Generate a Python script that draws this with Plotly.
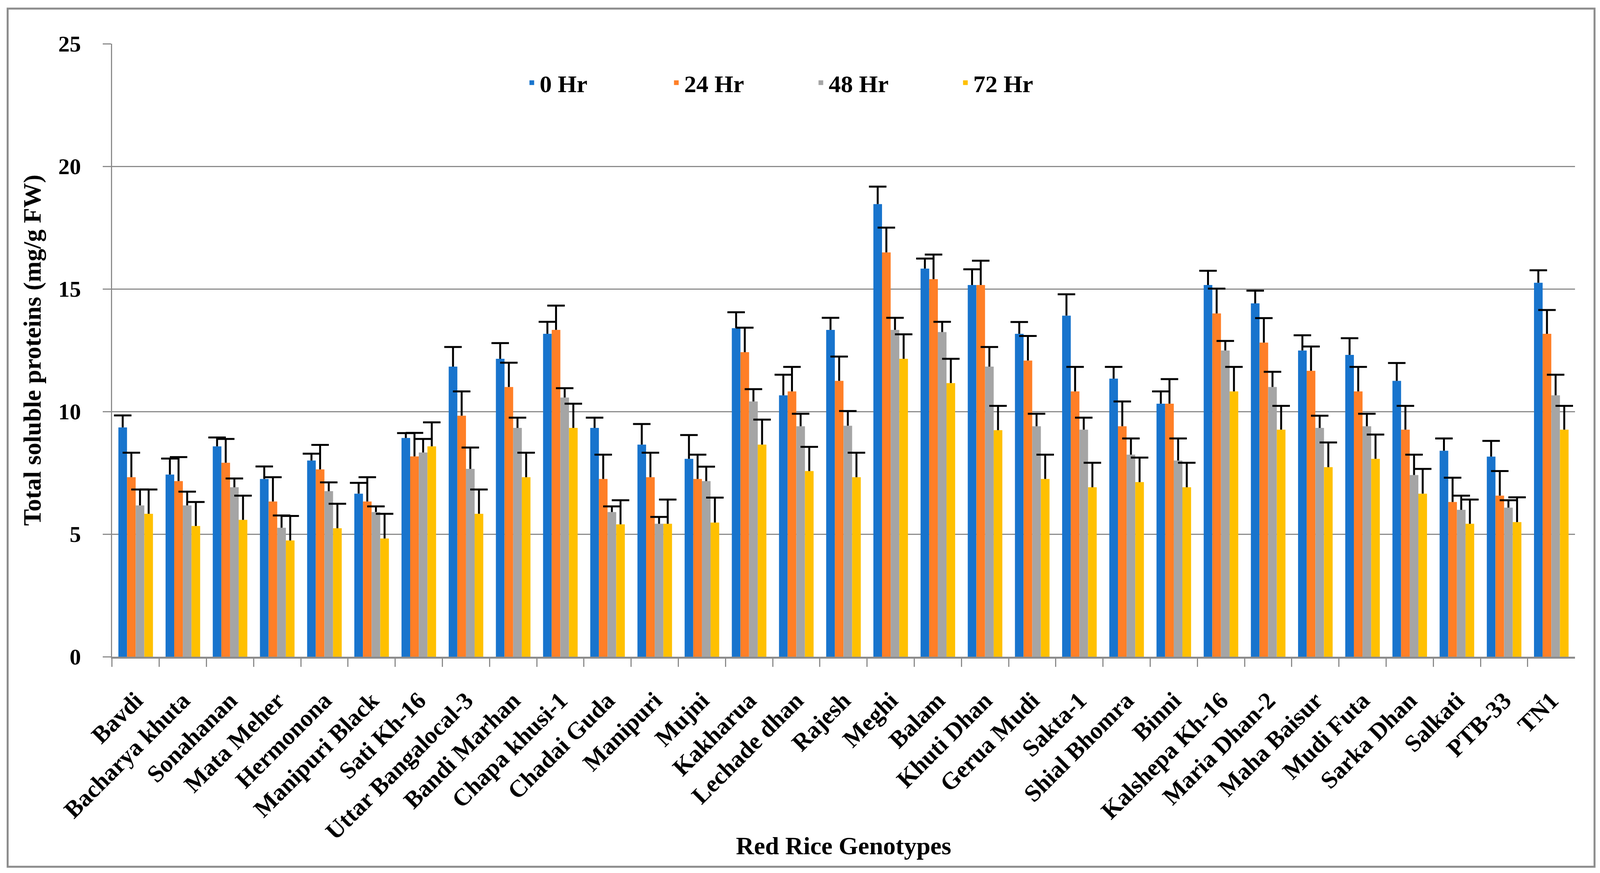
import plotly.graph_objects as go

genotypes = ["Bavdi", "Bacharya khuta", "Sonahanan", "Mata Meher", "Hermonona", "Manipuri Black",
             "Sati Kh-16", "Uttar Bangalocal-3", "Bandi Marhan", "Chapa khusi-1", "Chadai Guda",
             "Manipuri", "Mujni", "Kakharua", "Lechade dhan", "Rajesh", "Meghi", "Balam",
             "Khuti Dhan", "Gerua Mudi", "Sakta-1", "Shial Bhomra", "Binni", "Kalshepa Kh-16",
             "Maria Dhan-2", "Maha Baisur", "Mudi Futa", "Sarka Dhan", "Salkati", "PTB-33", "TN1"]

series_names = ["0 Hr", "24 Hr", "48 Hr", "72 Hr"]

hr0 = [9.35, 7.43, 8.58, 7.25, 8.00, 6.65, 8.92, 11.83, 12.15, 13.17, 9.33, 8.65, 8.07, 13.40, 10.66,
       13.33, 18.46, 15.83, 15.16, 13.17, 13.91, 11.34, 10.32, 15.16, 14.41, 12.49, 12.31, 11.25,
       8.40, 8.16, 15.25]
err0 = [0.49, 0.65, 0.36, 0.51, 0.28, 0.44, 0.20, 0.80, 0.64, 0.49, 0.42, 0.84, 0.97, 0.65, 0.84,
        0.49, 0.71, 0.41, 0.64, 0.48, 0.87, 0.48, 0.50, 0.58, 0.52, 0.62, 0.68, 0.73, 0.50, 0.64, 0.51]

hr24 = [7.32, 7.16, 7.91, 6.33, 7.64, 6.33, 8.17, 9.83, 11.00, 13.33, 7.25, 7.32, 7.25, 12.42, 10.82,
        11.25, 16.49, 15.40, 15.16, 12.08, 10.82, 9.40, 10.32, 14.00, 12.81, 11.66, 10.82, 9.26,
        6.31, 6.57, 13.17]
err24 = [1.00, 0.98, 0.97, 0.99, 1.00, 0.99, 0.96, 0.99, 0.99, 0.99, 0.99, 1.00, 0.99, 1.00, 1.00,
         0.99, 1.01, 1.00, 0.99, 1.00, 1.00, 1.01, 1.00, 1.01, 1.00, 0.99, 1.00, 0.97, 0.99, 1.00, 0.97]

hr48 = [6.17, 6.17, 6.91, 5.26, 6.75, 5.90, 8.33, 7.66, 9.33, 10.57, 5.90, 5.42, 7.16, 10.41, 9.40,
        9.42, 13.33, 13.24, 11.83, 9.40, 9.26, 8.24, 8.00, 12.49, 11.00, 9.33, 9.40, 7.41,
        5.99, 6.08, 10.66]
err48 = [0.65, 0.56, 0.36, 0.50, 0.36, 0.23, 0.55, 0.87, 0.42, 0.38, 0.23, 0.28, 0.59, 0.50, 0.51,
         0.60, 0.49, 0.42, 0.80, 0.51, 0.49, 0.66, 0.90, 0.39, 0.62, 0.50, 0.51, 0.83, 0.58, 0.30, 0.84]

hr72 = [5.83, 5.33, 5.58, 4.74, 5.24, 4.82, 8.58, 5.83, 7.32, 9.33, 5.40, 5.42, 5.47, 8.65, 7.57,
        7.32, 12.15, 11.16, 9.24, 7.25, 6.91, 7.12, 6.91, 10.82, 9.26, 7.73, 8.07, 6.65,
        5.42, 5.49, 9.26]
err72 = [0.99, 0.98, 0.99, 1.00, 1.00, 1.01, 0.98, 0.99, 1.00, 0.99, 0.98, 0.99, 1.02, 1.02, 0.99,
         1.00, 1.00, 0.99, 0.99, 0.99, 1.00, 1.00, 1.00, 1.00, 0.97, 1.01, 0.99, 1.01, 0.99, 1.01, 0.97]

colors = ["#1874CD", "#FF7F27", "#A5A5A5", "#FFC000"]
y_ticks = [0, 5, 10, 15, 20, 25]

FONT = "Liberation Serif"
GRID = "#8C8C8C"

values = [hr0, hr24, hr48, hr72]
errors = [err0, err24, err48, err72]

# Layout is expressed as fractions of the page so it follows the window size.
REF_W, REF_H = 4397, 2236      # reference picture size
VW, VH = 4105, 2236            # expected page viewport (css px)
OFF = 8                        # body margin of the html page
FW, FH = VW - 2 * OFF, VH - 2 * OFF
KX = VW / REF_W


def fx(x_ref):
    return (x_ref * KX - OFF) / FW


def fy(y_ref):
    return 1 - (y_ref * VH / REF_H - OFF) / FH


fig = go.Figure()

for i, (name, vals, col) in enumerate(zip(series_names, values, colors)):
    fig.add_trace(go.Bar(
        x=genotypes, y=vals, name=name, marker=dict(color=col, line=dict(width=0)),
        offsetgroup=str(i), alignmentgroup="a",
    ))

# error bars (plus direction only): stem + cap drawn at value + error
for i, (vals, errs) in enumerate(zip(values, errors)):
    tops = [v + e for v, e in zip(vals, errs)]
    fig.add_trace(go.Scatter(
        x=genotypes, y=tops, mode="markers", showlegend=False, hoverinfo="skip",
        offsetgroup=str(i), alignmentgroup="a",
        marker=dict(symbol="line-ew", size=32, color="black", line=dict(width=5, color="black")),
        error_y=dict(type="data", symmetric=False, array=[0] * len(errs), arrayminus=errs,
                     width=0, thickness=5, color="black"),
    ))

fig.update_layout(
    autosize=True,
    margin=dict(l=0, r=0, t=0, b=0, pad=0, autoexpand=False),
    paper_bgcolor="white", plot_bgcolor="white",
    barmode="group", bargap=0.267, bargroupgap=0,
    scattermode="group", scattergap=0.267,
    font=dict(family=FONT, size=60, color="black"),
    legend=dict(orientation="h", x=fx(1440), y=fy(212), xanchor="left",
                yanchor="middle", font=dict(family=FONT, size=62, color="black", weight="bold"),
                entrywidth=int(392 * KX) - 40, entrywidthmode="pixels", bgcolor="rgba(0,0,0,0)",
                itemwidth=30, traceorder="normal"),
    showlegend=True,
    yaxis=dict(
        domain=[fy(1682), fy(112)],
        range=[0, 25], tickvals=y_ticks, ticktext=[str(v) for v in y_ticks],
        showgrid=True, gridcolor=GRID, gridwidth=3,
        showline=True, linecolor=GRID, linewidth=3,
        ticks="outside", ticklen=21, tickwidth=3, tickcolor=GRID,
        zeroline=False,
        tickfont=dict(family=FONT, size=58, color="black", weight="bold"),
        ticklabelstandoff=44,
        title=dict(text="Total soluble proteins (mg/g FW)", standoff=24,
                   font=dict(family=FONT, size=64, color="black", weight="bold")),
    ),
    xaxis=dict(
        domain=[fx(308), fx(4328)],
        type="category", categoryorder="array", categoryarray=genotypes,
        showline=True, linecolor=GRID, linewidth=5,
        ticks="outside", tickson="boundaries", ticklen=21, tickwidth=3, tickcolor=GRID,
        tickangle=-45, showgrid=False,
        tickfont=dict(family=FONT, size=62, color="black", weight="bold"),
        ticklabelstandoff=46,
    ),
    annotations=[dict(
        text="Red Rice Genotypes", xref="paper", yref="paper", x=(fx(308) + fx(4328)) / 2,
        y=fy(2166), xanchor="center", yanchor="middle", showarrow=False,
        font=dict(family=FONT, size=64, color="black", weight="bold"),
    )],
    shapes=[dict(
        type="rect", xref="paper", yref="paper", layer="below",
        x0=fx(21), x1=fx(4382),
        y0=fy(2220), y1=fy(22),
        line=dict(color=GRID, width=5), fillcolor="rgba(0,0,0,0)",
    )],
)

fig.write_html("out.html")
